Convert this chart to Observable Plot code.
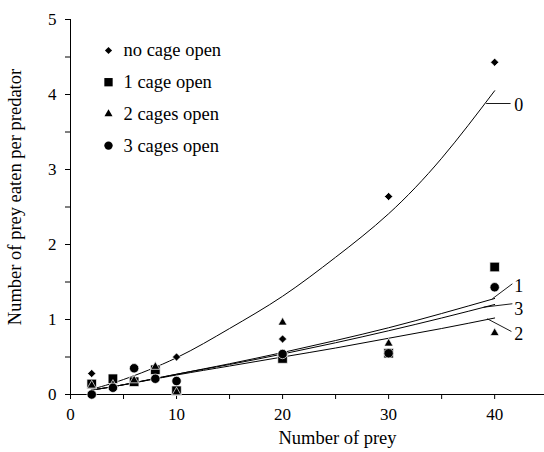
<!DOCTYPE html>
<html><head><meta charset="utf-8">
<script src="https://cdn.jsdelivr.net/npm/d3@7"></script>
<script src="https://cdn.jsdelivr.net/npm/@observablehq/plot@0.6"></script>
<style>body{margin:0;background:#fff}</style>
</head><body><div id="chart"></div>
<script>
// Observed data (number of prey offered -> prey eaten per predator)
const preyX = [2, 4, 6, 8, 10, 20, 30, 40];
const noCage   = [0.28, 0.20, 0.18, 0.36, 0.50, 0.74, 2.64, 4.43];
const oneCage  = [0.14, 0.21, 0.17, 0.33, 0.05, 0.48, 0.55, 1.70];
const twoCages = [0.12, 0.13, 0.19, 0.37, 0.03, 0.96, 0.68, 0.82];
const threeCages = [0.00, 0.09, 0.35, 0.21, 0.18, 0.54, 0.55, 1.43];

// Fitted curves
const fitX  = [2, 5, 10, 15, 20, 25, 30, 35, 40];
const fit0  = [0.07, 0.20, 0.49, 0.88, 1.31, 1.83, 2.41, 3.15, 4.05];
const fit1  = [0.06, 0.13, 0.27, 0.41, 0.56, 0.72, 0.89, 1.08, 1.28];
const fit3  = [0.06, 0.13, 0.27, 0.40, 0.54, 0.69, 0.85, 1.02, 1.20];
const fit2  = [0.06, 0.13, 0.26, 0.38, 0.50, 0.62, 0.75, 0.88, 1.02];

// Curve labels and their leader lines
const curveLabels = ["0", "1", "3", "2"];
const leaderX1 = [39.2, 39.78, 38.96, 39.3];
const leaderY1 = [3.88, 1.276, 1.164, 1.01];
const leaderX2 = [41.5, 41.67, 41.67, 41.58];
const leaderY2 = [3.88, 1.476, 1.21, 0.84];
const labelX = [41.85, 41.85, 41.85, 41.85];
const labelY = [3.86, 1.45, 1.14, 0.80];

const seriesNames = ["no cage open", "1 cage open", "2 cages open", "3 cages open"];
const yTicks = [0, 1, 2, 3, 4, 5];
const yMinor = [0, 0.5, 1, 1.5, 2, 2.5, 3, 3.5, 4, 4.5, 5];
const xTicks = [0, 5, 10, 15, 20, 25, 30, 35, 40];

const FONT = "Liberation Serif, Times New Roman, serif";
const toPts = (xs, ys) => xs.map((x, i) => ({x, y: ys[i]}));
const symbols = ["diamond2", "square", "triangle", "circle"];
const radii = [3.7, 5.4, 3.3, 4.7];
const legendR = [3.2, 4.7, 3.0, 4.2];
const seriesVals = [noCage, oneCage, twoCages, threeCages];

const leaders = curveLabels.map((t, i) => ({t, x1: leaderX1[i], y1: leaderY1[i], x2: leaderX2[i], y2: leaderY2[i], lx: labelX[i], ly: labelY[i]}));

const marks = [
  Plot.ruleY([0], {stroke: "black", strokeWidth: 1}),
  Plot.ruleX([0], {y1: 0, y2: 5, stroke: "black", strokeWidth: 1}),
  Plot.axisY({ticks: yMinor, tickSize: 5, tickFormat: () => "", label: null}),
  Plot.text(yTicks, {frameAnchor: "left", y: d => d, text: d => String(d), dx: -14, textAnchor: "end", lineAnchor: "middle", fontSize: 17, fontFamily: FONT}),
  Plot.axisX({ticks: xTicks, tickSize: 5, tickPadding: 8, label: null, tickFormat: d => d % 10 === 0 ? d : "", fontSize: 17, fontFamily: FONT}),
  ...[fit0, fit1, fit3, fit2].map(f => Plot.line(toPts(fitX, f), {x: "x", y: "y", curve: "natural", stroke: "black", strokeWidth: 1})),
  Plot.link(leaders, {x1: "x1", y1: "y1", x2: "x2", y2: "y2", stroke: "black", strokeWidth: 0.9}),
  Plot.text(leaders, {x: "lx", y: "ly", text: "t", textAnchor: "start", fontSize: 18, fontFamily: FONT}),
  ...seriesVals.map((vals, i) => Plot.dot(toPts(preyX, vals), {x: "x", y: "y", symbol: symbols[i], r: radii[i], fill: "black", stroke: "white", strokeWidth: 0.7})),
  // legend
  ...seriesNames.map((name, i) => Plot.dot([name], {frameAnchor: "top-left", dx: 38, dy: 31 + i * 31.7, symbol: symbols[i], r: legendR[i], fill: "black", stroke: "none"})),
  ...seriesNames.map((name, i) => Plot.text([name], {frameAnchor: "top-left", dx: 53, dy: 31 + i * 31.7, text: d => d, textAnchor: "start", lineAnchor: "middle", fontSize: 18.5, fontFamily: FONT})),
  // axis titles
  Plot.text(["Number of prey"], {frameAnchor: "bottom", dx: 30, dy: 44, text: d => d, textAnchor: "middle", lineAnchor: "middle", fontSize: 18.5, fontFamily: FONT}),
  Plot.text(["Number of prey eaten per predator"], {frameAnchor: "left", dx: -55, dy: -10, rotate: -90, text: d => d, textAnchor: "middle", lineAnchor: "middle", fontSize: 18.5, fontFamily: FONT})
];

const chart = Plot.plot({
  width: 544,
  height: 452,
  marginLeft: 70,
  marginRight: 0,
  marginTop: 19,
  marginBottom: 58,
  x: {domain: [0, 44.7]},
  y: {domain: [0, 5]},
  style: {fontSize: "17px", background: "white", color: "black", fontFamily: FONT},
  marks
});
document.getElementById("chart").appendChild(chart);
</script>
</body></html>
